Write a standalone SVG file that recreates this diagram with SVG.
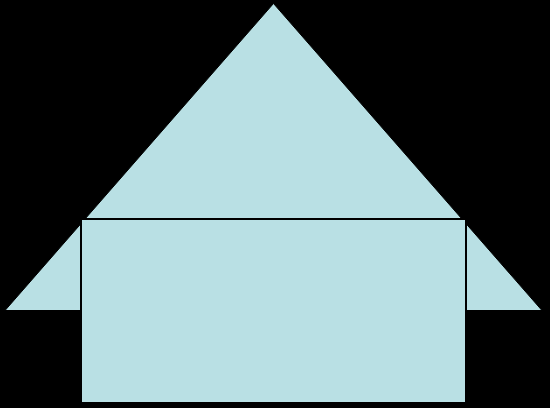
<svg xmlns="http://www.w3.org/2000/svg" width="550" height="408" viewBox="0 0 550 408">
<style>.s{fill:#b9e0e4;stroke:#000;}</style>
<rect width="550" height="408" fill="#000"/>
<g id="roof"><polygon class="s" points="273.5,3.5 5,310.5 542,310.5" stroke-width="1"/></g>
<g id="body"><rect class="s" x="81" y="219" width="385" height="184" stroke-width="2"/></g>
<g id="connectors"></g>
</svg>
